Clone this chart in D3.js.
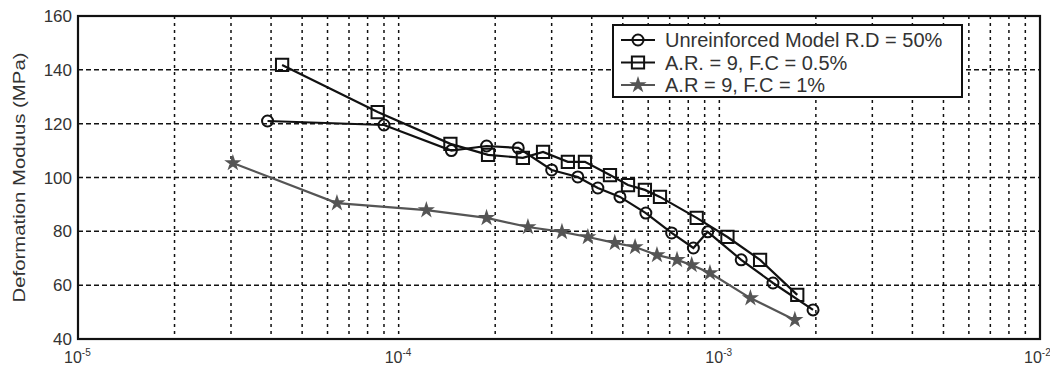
<!DOCTYPE html>
<html>
<head>
<meta charset="utf-8">
<script src="https://cdn.jsdelivr.net/npm/d3@7"></script>
<style>
  html, body { margin: 0; padding: 0; background: #fff; }
  svg { display: block; font-family: "Liberation Sans", Arial, sans-serif; }
</style>
</head>
<body>
<svg id="chart" width="1050" height="369"></svg>
<script>
// strain (log) vs deformation modulus, three test series
const unreinfX = [3.9e-5, 9.0e-5, 1.46e-4, 1.88e-4, 2.36e-4, 3.0e-4, 3.62e-4, 4.18e-4, 4.9e-4, 5.9e-4, 7.1e-4, 8.3e-4, 9.2e-4, 1.17e-3, 1.47e-3, 1.96e-3];
const unreinfY = [121, 119.5, 110, 111.7, 111, 102.8, 100.2, 96.1, 92.8, 86.8, 79.4, 73.8, 79.8, 69.4, 60.8, 50.8];

const fc05X = [4.33e-5, 8.6e-5, 1.45e-4, 1.9e-4, 2.44e-4, 2.82e-4, 3.37e-4, 3.81e-4, 4.56e-4, 5.19e-4, 5.86e-4, 6.53e-4, 8.5e-4, 1.06e-3, 1.34e-3, 1.75e-3];
const fc05Y = [141.8, 124.3, 112.5, 108.4, 107.3, 109.5, 105.8, 105.8, 100.9, 97.2, 95.4, 92.8, 85, 77.9, 69.4, 56.4];

const fc1X = [3.04e-5, 6.42e-5, 1.22e-4, 1.88e-4, 2.53e-4, 3.23e-4, 3.89e-4, 4.72e-4, 5.46e-4, 6.39e-4, 7.38e-4, 8.2e-4, 9.35e-4, 1.25e-3, 1.72e-3];
const fc1Y = [105.4, 90.5, 87.9, 85, 81.6, 79.8, 77.9, 75.7, 74.2, 71.2, 69.4, 67.5, 64.5, 55.2, 47.1];

const seriesNames = ["Unreinforced Model R.D = 50%", "A.R. = 9, F.C = 0.5%", "A.R = 9, F.C = 1%"];
const yTicks = [40, 60, 80, 100, 120, 140, 160];
const xDecades = [-5, -4, -3, -2];
const yLabel = "Deformation Moduus (MPa)";

const svg = d3.select("#chart");
const L = 78, R = 1040, T = 16, B = 339;

const x = d3.scaleLog().domain([1e-5, 1e-2]).range([L, R]);
const y = d3.scaleLinear().domain([40, 160]).range([B, T]);

// grid: 2..9 of each decade + inner decades (matlab dotted grid)
const vGrid = [];
for (let e = -5; e < -2; e++) {
  for (let k = 1; k <= 9; k++) {
    const v = k * Math.pow(10, e);
    if (v > 1e-5) vGrid.push(v);
  }
}
const gGrid = svg.append("g");
gGrid.selectAll("line.v").data(vGrid).join("line")
  .attr("x1", d => x(d)).attr("x2", d => x(d))
  .attr("y1", T).attr("y2", B)
  .attr("stroke", "#111").attr("stroke-width", 1.5)
  .attr("stroke-dasharray", "3,4");
gGrid.selectAll("line.h").data(yTicks.slice(1, -1)).join("line")
  .attr("x1", L).attr("x2", R)
  .attr("y1", d => y(d)).attr("y2", d => y(d))
  .attr("stroke", "#111").attr("stroke-width", 1.5)
  .attr("stroke-dasharray", "5,3");

// series
const star = d3.symbol().type(d3.symbolStar).size(38);
const circ = d3.symbol().type(d3.symbolCircle).size(95);
const sq = d3.symbol().type(d3.symbolSquare).size(150);

const series = [
  { xs: unreinfX, ys: unreinfY, color: "#111", sym: circ, fill: "none" },
  { xs: fc05X, ys: fc05Y, color: "#111", sym: sq, fill: "none" },
  { xs: fc1X, ys: fc1Y, color: "#555", sym: star, fill: "#555" }
];
const line = d3.line().x(d => x(d[0])).y(d => y(d[1]));

series.forEach(s => {
  const pts = s.xs.map((v, i) => [v, s.ys[i]]);
  svg.append("path").datum(pts)
    .attr("d", line).attr("fill", "none")
    .attr("stroke", s.color).attr("stroke-width", 2.2);
  svg.append("g").selectAll("path").data(pts).join("path")
    .attr("d", s.sym)
    .attr("transform", d => `translate(${x(d[0])},${y(d[1])})`)
    .attr("fill", s.fill).attr("stroke", s.color).attr("stroke-width", 2);
});

// axes box
svg.append("rect").attr("x", L).attr("y", T).attr("width", R - L).attr("height", B - T)
  .attr("fill", "none").attr("stroke", "#111").attr("stroke-width", 2.2);

// y tick labels
svg.append("g").selectAll("text").data(yTicks).join("text")
  .attr("x", L - 6).attr("y", d => y(d) + 6)
  .attr("text-anchor", "end").attr("font-size", 17).attr("fill", "#333")
  .text(d => d);

// x tick labels 10^e
const xt = svg.append("g").selectAll("text").data(xDecades).join("text")
  .attr("x", d => Math.min(x(Math.pow(10, d)) - 14, 1024)).attr("y", 363)
  .attr("font-size", 16).attr("fill", "#333");
xt.append("tspan").text("10");
xt.append("tspan").attr("dy", -7).attr("font-size", 10).text(d => d);

svg.append("text")
  .attr("transform", `translate(25,${(T + B) / 2}) rotate(-90)`)
  .attr("text-anchor", "middle").attr("font-size", 17).attr("fill", "#333")
  .attr("textLength", 250).attr("lengthAdjust", "spacingAndGlyphs")
  .text(yLabel);

// legend
const lg = svg.append("g");
lg.append("rect").attr("x", 613).attr("y", 25).attr("width", 349).attr("height", 72)
  .attr("fill", "#fff").attr("stroke", "#111").attr("stroke-width", 2);
seriesNames.forEach((name, i) => {
  const s = series[i];
  const cy = 40 + i * 22.5;
  lg.append("line").attr("x1", 621).attr("x2", 655).attr("y1", cy).attr("y2", cy)
    .attr("stroke", s.color).attr("stroke-width", 2.2);
  lg.append("path").attr("d", s.sym).attr("transform", `translate(638,${cy})`)
    .attr("fill", s.fill).attr("stroke", s.color).attr("stroke-width", 2);
  lg.append("text").attr("x", 665).attr("y", cy + 7)
    .attr("font-size", 20).attr("fill", "#333").text(name);
});
</script>
</body>
</html>
